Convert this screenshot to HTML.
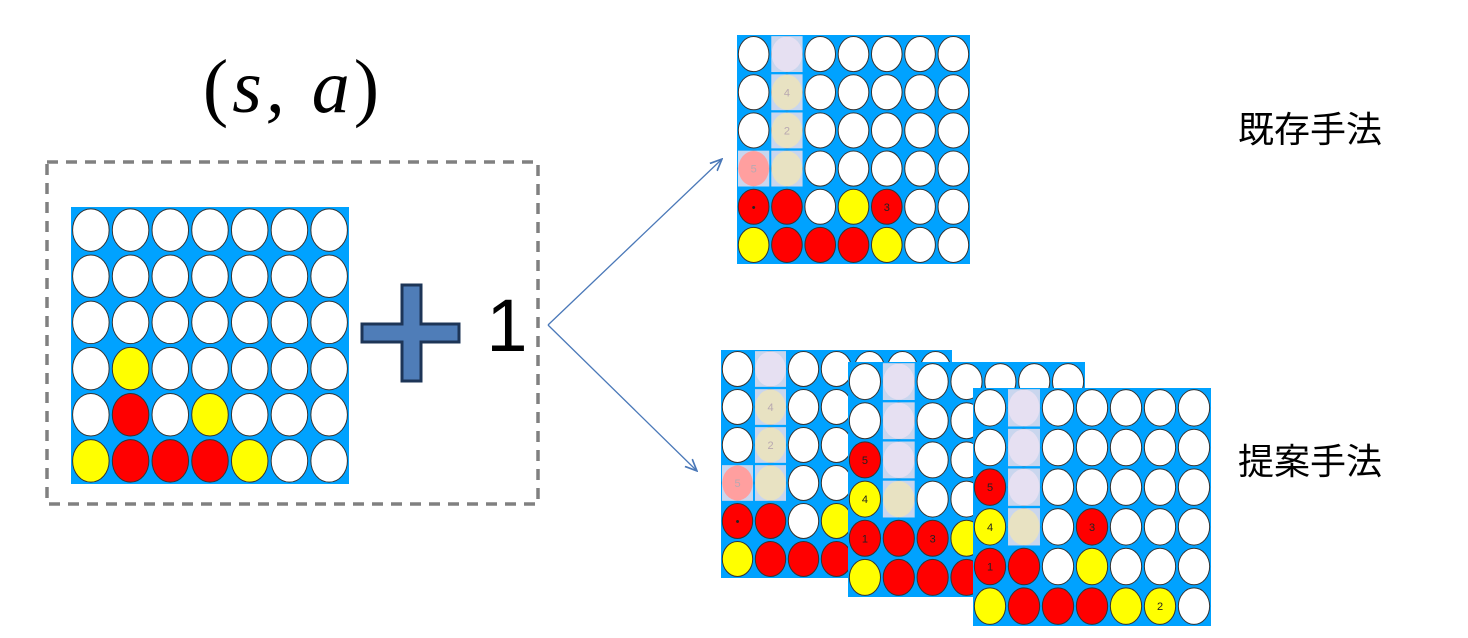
<!DOCTYPE html>
<html><head><meta charset="utf-8"><style>
html,body{margin:0;padding:0;background:#fff;width:1468px;height:638px;overflow:hidden}
svg{display:block}
</style></head><body>
<svg id="root" width="1468" height="638" xmlns="http://www.w3.org/2000/svg">
<defs><marker id="ah" markerWidth="10" markerHeight="10" refX="8" refY="5" orient="auto"><path d="M0,1 L9,5 L0,9" fill="none" stroke="#4a78b8" stroke-width="1.3"/></marker></defs>
<text x="293" y="112" font-family="'Liberation Serif',serif" font-size="76" font-style="italic" text-anchor="middle" letter-spacing="4"><tspan font-style="normal">(</tspan>s, a<tspan font-style="normal">)</tspan></text>
<rect x="47" y="162" width="491" height="342" fill="none" stroke="#808080" stroke-width="3.5" stroke-dasharray="11,8"/>
<g id="boards"></g>
<path d="M402,285 H421 V324 H459 V342 H421 V381 H402 V342 H362 V324 H402 Z" fill="#4f7db8" stroke="#1d3557" stroke-width="3"/>
<text x="507" y="351" font-family="'Liberation Sans',sans-serif" font-size="74" text-anchor="middle">1</text>
<line x1="548" y1="325" x2="721" y2="160" stroke="#4a78b8" stroke-width="1.3" marker-end="url(#ah)"/>
<line x1="548" y1="325" x2="696" y2="470" stroke="#4a78b8" stroke-width="1.3" marker-end="url(#ah)"/>
<text x="1310" y="142" font-family="'Liberation Sans','Noto Sans CJK JP',sans-serif" font-size="36" text-anchor="middle">既存手法</text>
<text x="1310" y="474" font-family="'Liberation Sans','Noto Sans CJK JP',sans-serif" font-size="36" text-anchor="middle">提案手法</text>
</svg>
<script>
// board cells: W white, R red, Y yellow, L lavender overlay, B beige overlay, P pink overlay; optional label after ':'
const mainBoard=["WWWWWWW","WWWWWWW","WWWWWWW","WYWWWWW","WRWYWWW","YRRRYWW"];
const existBoard=[["W","L","W","W","W","W","W"],["W","B:4","W","W","W","W","W"],["W","B:2","W","W","W","W","W"],["P:5","B","W","W","W","W","W"],["R:•","R","W","Y","R:3","W","W"],["Y","R","R","R","Y","W","W"]];
const prop2=[["W","L","W","W","W","W","W"],["W","L","W","W","W","W","W"],["R:5","L","W","W","W","W","W"],["Y:4","B","W","W","W","W","W"],["R:1","R","R:3","Y","W","W","W"],["Y","R","R","R","Y","W","W"]];
const prop3=[["W","L","W","W","W","W","W"],["W","L","W","W","W","W","W"],["R:5","L","W","W","W","W","W"],["Y:4","B","W","R:3","W","W","W"],["R:1","R","W","Y","W","W","W"],["Y","R","R","R","Y","Y:2","W"]];
const NS="http://www.w3.org/2000/svg";
const g=document.getElementById('boards');
const fills={W:"#ffffff",R:"#ff0000",Y:"#ffff00"};
function mk(t,a,p){const e=document.createElementNS(NS,t);for(const k in a)e.setAttribute(k,a[k]);p.appendChild(e);return e;}
function board(cells,x,y,w,h,name){
  const bg=mk('g',{},g);
  
  
  mk('rect',{x:x,y:y,width:w,height:h,fill:"#00a2ff"},bg);
  const cw=w/7,ch=h/6;
  for(let r=0;r<6;r++)for(let c=0;c<7;c++){
    const s=cells[r][c];
    const [k,lab]=s.split(':');
    const cx=x+cw*(c+0.5),cy=y+ch*(r+0.5),rx=cw*0.46,ry=ch*0.46;
    if(k==="L"||k==="B"||k==="P"){
      mk('ellipse',{cx:cx,cy:cy,rx:rx,ry:ry,fill:"#ffffff",stroke:"#333",'stroke-width':1},bg);
      const col={L:"#e6e0f2",B:"#e8e2c2",P:"#ff9f9f"}[k];
      mk('rect',{x:cx-cw*0.47,y:cy-ch*0.47,width:cw*0.94,height:ch*0.94,fill:"#c9d6ee"},bg);
      mk('ellipse',{cx:cx,cy:cy,rx:rx,ry:ry,fill:col},bg);
      if(lab){const t=mk('text',{x:cx,y:cy+4,'font-size':11,'text-anchor':'middle',fill:"#b8a8b0",'font-family':"Liberation Sans,sans-serif"},bg);t.textContent=lab;}
    } else {
      mk('ellipse',{cx:cx,cy:cy,rx:rx,ry:ry,fill:fills[k],stroke:"#333",'stroke-width':1},bg);
      if(lab){const t=mk('text',{x:cx,y:cy+4,'font-size':11,'text-anchor':'middle',fill:"#222",'font-family':"Liberation Sans,sans-serif"},bg);t.textContent=lab;}
    }
  }
}
board(mainBoard,71,207,278,277,'input-board');
board(existBoard,737,35,233,229,'existing-method-board');
board(existBoard,721,350,231,228,'proposed-board-1');
board(prop2,848,362,237,235,'proposed-board-2');
board(prop3,973,388,238,238,'proposed-board-3');
</script>
</body></html>
